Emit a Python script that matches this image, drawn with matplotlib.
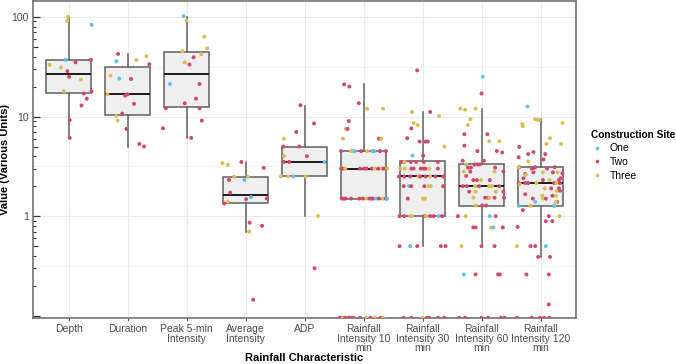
import numpy as np
import matplotlib.pyplot as plt
from matplotlib.lines import Line2D
from matplotlib.ticker import FixedLocator, NullFormatter

plt.rcParams['font.family'] = ['Liberation Sans', 'DejaVu Sans']

categories = ['Depth', 'Duration', 'Peak 5-min\nIntensity', 'Average\nIntensity', 'ADP',
              'Rainfall\nIntensity 10\nmin', 'Rainfall\nIntensity 30\nmin',
              'Rainfall\nIntensity 60\nmin', 'Rainfall\nIntensity 120\nmin']
site_names = ['One', 'Two', 'Three']
site_colors = ['#5BC3EE', '#D2476B', '#DCBD4F']

# box summaries (zeros are left out of the box stats)
box_lo = [6.1, 5.0, 6.1, 0.7, 1.0, 1.5, 0.5, 0.5, 0.39]
box_q1 = [17.3, 10.3, 12.4, 1.35, 2.5, 1.5, 1.0, 1.27, 1.27]
box_med = [26.9, 16.7, 26.5, 1.64, 3.46, 3.0, 2.5, 2.0, 2.15]
box_q3 = [36.7, 31.2, 44.5, 2.45, 4.97, 4.5, 3.55, 3.31, 3.09]
box_hi = [100, 42.5, 100, 3.46, 12.8, 21, 11.1, 12, 9.4]

# points: (value, site 1/2/3, jitter in category units); value 0 sits on the panel floor
depth_pts = [(100, 3, -0.01), (91, 3, -0.02), (83, 1, 0.39), (37, 1, -0.05), (35, 2, 0.12),
             (37, 2, 0.38), (33, 3, -0.32), (31, 3, -0.13), (28.5, 2, -0.02), (25, 2, 0.01),
             (23.5, 3, 0.21), (17.9, 3, -0.08), (17.9, 2, 0.39), (17, 2, 0.26), (15.1, 2, 0.31),
             (12.9, 2, 0.22), (9.2, 2, 0.02), (6.1, 2, 0.02)]
duration_pts = [(42.5, 2, -0.16), (37, 3, 0.15), (40.3, 3, 0.32), (33.5, 2, 0.37), (35.9, 1, -0.19),
                (25.7, 3, -0.29), (24, 1, -0.14), (23.8, 2, 0.06), (16.7, 3, -0.34), (16.2, 2, -0.04),
                (16.7, 2, 0.0), (13.4, 2, 0.11), (10.7, 2, -0.09), (10.1, 3, -0.19), (9.1, 3, -0.17),
                (7.5, 2, -0.02), (5.3, 2, 0.2), (5.0, 2, 0.28)]
peak_pts = [(102, 1, -0.05), (91.6, 3, 0.0), (63.4, 3, 0.3), (48.4, 3, 0.35), (45.2, 3, -0.07),
            (42.2, 3, 0.25), (39.3, 2, 0.12), (34.8, 3, -0.03), (33.2, 2, 0.05), (21.2, 1, -0.28),
            (21.2, 2, 0.22), (15.1, 2, 0.16), (13.6, 2, -0.03), (12.1, 2, -0.35), (12.1, 2, 0.22),
            (9.1, 2, 0.26), (7.6, 2, -0.4), (6.1, 2, 0.08)]
avg_pts = [(3.4, 3, -0.39), (3.27, 3, -0.3), (3.5, 2, -0.07), (3.05, 2, 0.31), (2.48, 3, -0.19),
           (2.48, 3, 0.04), (2.31, 2, -0.28), (2.31, 1, -0.02), (1.72, 2, -0.26), (1.34, 2, -0.36),
           (1.4, 3, -0.3), (1.48, 2, 0.01), (1.55, 1, 0.09), (1.5, 2, 0.36), (0.86, 2, 0.07),
           (0.8, 2, 0.28), (0.7, 3, 0.06), (0.145, 2, 0.13)]
adp_pts = [(13, 2, -0.07), (8.5, 2, 0.16), (7.0, 2, -0.14), (6.0, 3, -0.35), (5.0, 2, -0.36),
           (5.0, 2, -0.09), (4.0, 2, 0.04), (4.0, 3, -0.35), (3.5, 2, -0.35), (3.5, 2, -0.26),
           (3.5, 1, 0.34), (2.5, 3, -0.4), (2.5, 3, -0.28), (2.5, 1, -0.19), (2.5, 3, 0.02),
           (1.0, 3, 0.23), (0.3, 2, 0.17)]
r10_pts = [(21, 2, -0.33), (20, 2, -0.24), (13.6, 2, -0.08), (12, 3, 0.06), (12, 3, 0.33),
           (9, 2, -0.25), (7.5, 3, -0.3), (7.5, 2, -0.27), (6, 3, -0.35), (6, 2, 0.26), (6, 3, 0.3),
           (4.5, 2, -0.38), (4.5, 3, -0.21), (4.5, 3, -0.19), (4.5, 1, -0.15), (4.5, 2, -0.04),
           (4.5, 3, 0.06), (4.5, 1, 0.15), (4.5, 1, 0.18), (4.5, 2, 0.28), (4.5, 2, 0.38),
           (3.0, 2, -0.38), (3.0, 2, -0.35), (3.0, 3, -0.31), (3.0, 2, -0.06), (3.0, 2, 0.01),
           (3.0, 2, 0.05), (3.0, 2, 0.14), (3.0, 3, 0.19), (3.0, 2, 0.25), (3.0, 3, 0.31),
           (3.0, 2, 0.34), (3.0, 3, 0.4),
           (1.5, 2, -0.37), (1.5, 2, -0.34), (1.5, 2, -0.31), (1.5, 2, -0.21), (1.5, 2, -0.07),
           (1.5, 2, -0.01), (1.5, 3, 0.05), (1.5, 2, 0.1), (1.5, 2, 0.13), (1.5, 2, 0.16),
           (1.5, 1, 0.21), (1.5, 2, 0.26), (1.5, 3, 0.33), (1.5, 2, 0.38), (1.5, 1, 0.4),
           (0, 2, -0.4), (0, 2, -0.38), (0, 3, -0.35), (0, 2, -0.31), (0, 2, -0.25), (0, 2, -0.21),
           (0, 2, -0.17), (0, 2, -0.06), (0, 3, 0.05), (0, 2, 0.12), (0, 3, 0.19), (0, 2, 0.29),
           (0, 3, 0.33)]
r30_pts = [(29, 2, -0.09), (11.1, 3, -0.18), (11.1, 2, 0.13), (10.1, 3, 0.28), (8.6, 3, -0.15),
           (8.2, 3, -0.08), (7.6, 2, -0.19), (6.05, 2, -0.26), (5.6, 2, -0.05), (5.6, 2, 0.05),
           (5.6, 2, 0.09), (5.0, 3, 0.37), (4.05, 1, -0.17), (4.05, 2, 0.01),
           (3.5, 2, -0.35), (3.5, 3, -0.31), (3.5, 2, -0.2), (3.5, 2, -0.11), (3.5, 2, 0.02),
           (3.5, 2, 0.26),
           (3.0, 3, -0.38), (3.0, 3, -0.3), (3.0, 2, -0.19), (3.0, 2, -0.15), (3.0, 2, -0.03),
           (3.0, 2, 0.02), (3.0, 2, 0.05), (3.0, 3, 0.11), (3.0, 2, 0.26),
           (2.5, 2, -0.4), (2.5, 2, -0.31), (2.5, 2, -0.21), (2.5, 3, -0.07), (2.5, 2, -0.04),
           (2.5, 2, 0.05), (2.5, 3, 0.13), (2.5, 2, 0.22), (2.5, 2, 0.35),
           (2.0, 2, -0.32), (2.0, 1, -0.23), (2.0, 2, -0.19), (2.0, 2, 0.03), (2.0, 3, 0.1),
           (2.0, 3, 0.14), (2.0, 2, 0.35),
           (1.5, 2, -0.25), (1.5, 3, 0.01), (1.5, 3, 0.04),
           (1.0, 2, -0.39), (1.0, 2, -0.31), (1.0, 3, -0.21), (1.0, 3, -0.18), (1.0, 2, 0.03),
           (1.0, 3, 0.06), (1.0, 2, 0.13), (1.0, 2, 0.19), (1.0, 1, 0.27), (1.0, 2, 0.33),
           (0.5, 2, -0.39), (0.5, 1, -0.21), (0.5, 2, -0.09), (0.5, 2, 0.31), (0.5, 2, 0.39),
           (0, 2, -0.32), (0, 2, -0.19), (0, 3, 0.0), (0, 2, 0.08), (0, 2, 0.11), (0, 2, 0.26),
           (0, 2, 0.37)]
r60_pts = [(25, 1, 0.02), (17, 2, 0.0), (12, 3, -0.36), (11.7, 3, -0.28), (12, 3, -0.1),
           (9.4, 3, -0.19), (8.2, 3, -0.23), (6.65, 2, -0.29), (6.65, 2, 0.1), (5.65, 3, 0.13),
           (5.65, 3, 0.3), (5.1, 2, -0.29), (4.5, 2, -0.07), (4.5, 2, 0.26), (4.35, 2, 0.35),
           (3.6, 2, -0.32), (3.6, 2, 0.04), (3.3, 3, -0.26), (3.3, 2, -0.12), (3.3, 2, -0.07),
           (3.3, 2, -0.03), (3.07, 2, -0.23), (3.07, 2, -0.18), (3.07, 2, 0.23),
           (2.8, 3, -0.3), (2.8, 2, -0.19), (2.8, 3, 0.22), (2.8, 2, 0.37), (2.53, 2, -0.26),
           (2.3, 2, -0.14), (2.3, 2, -0.08), (2.3, 3, -0.01), (2.3, 2, 0.14),
           (2.0, 2, -0.32), (2.0, 2, -0.25), (2.0, 3, -0.11), (2.0, 2, -0.04), (2.0, 3, 0.13),
           (2.0, 3, 0.18), (2.0, 2, 0.3),
           (1.76, 2, -0.21), (1.76, 3, -0.1), (1.76, 3, 0.24), (1.76, 2, 0.37),
           (1.53, 3, -0.14), (1.53, 2, 0.06), (1.53, 2, 0.11), (1.53, 3, 0.13), (1.53, 2, 0.22),
           (1.53, 2, 0.38), (1.28, 3, -0.1), (1.28, 2, 0.01), (1.28, 2, 0.08),
           (1.0, 2, -0.4), (1.0, 3, -0.27), (1.0, 1, 0.14), (1.0, 2, 0.24),
           (0.77, 2, -0.14), (0.77, 2, -0.1), (0.77, 3, 0.16), (0.77, 1, 0.2), (0.77, 2, 0.36),
           (0.5, 3, -0.34), (0.5, 2, 0.0), (0.5, 2, 0.22),
           (0.26, 1, -0.3), (0.26, 2, -0.1), (0.26, 2, 0.28), (0.26, 2, 0.31),
           (0, 2, -0.38), (0, 2, -0.28), (0, 2, 0.0), (0, 2, 0.11), (0, 2, 0.33), (0, 2, 0.39)]
r120_pts = [(12.6, 1, -0.22), (9.4, 3, -0.09), (9.3, 3, -0.06), (9.2, 3, -0.02), (8.6, 3, 0.37),
            (8.4, 3, -0.31), (8.0, 3, -0.3), (6.05, 3, 0.16), (5.3, 3, 0.1), (5.3, 3, 0.35),
            (4.95, 2, -0.36), (4.2, 2, 0.08), (4.4, 2, -0.12), (4.2, 2, -0.21), (3.9, 2, -0.37),
            (3.7, 2, 0.05), (3.55, 3, -0.21), (3.1, 2, -0.36), (3.1, 3, -0.37), (3.0, 2, -0.15),
            (3.05, 2, -0.12), (3.1, 2, -0.09), (3.0, 2, 0.11), (3.1, 2, 0.24),
            (2.65, 2, -0.26), (2.6, 3, -0.25), (2.75, 2, -0.12), (2.75, 3, 0.04), (2.75, 2, 0.21),
            (2.75, 3, 0.29), (2.7, 2, 0.37), (2.4, 2, -0.29), (2.4, 2, 0.34), (2.3, 2, 0.31),
            (2.3, 2, 0.04), (2.3, 3, 0.15),
            (2.15, 2, -0.37), (2.1, 3, -0.35), (2.15, 2, -0.26), (2.15, 2, -0.21), (2.15, 3, -0.07),
            (2.15, 2, 0.23), (2.15, 3, 0.27), (2.15, 2, 0.33),
            (1.9, 3, 0.07), (1.9, 2, 0.18), (1.9, 2, 0.31), (1.8, 3, 0.28), (1.8, 2, 0.33),
            (1.66, 2, -0.26), (1.5, 2, -0.13), (1.6, 3, 0.03), (1.5, 3, 0.04), (1.5, 2, 0.09),
            (1.6, 2, 0.2), (1.6, 3, 0.26), (1.39, 2, 0.28), (1.39, 3, 0.26),
            (1.27, 1, -0.37), (1.39, 1, -0.09), (1.27, 3, -0.17), (1.27, 1, 0.23), (1.15, 2, -0.3),
            (1.0, 3, 0.32), (1.0, 2, 0.14), (0.89, 2, 0.09), (0.89, 2, 0.2), (0.78, 2, -0.39),
            (0.5, 3, -0.4), (0.5, 2, -0.17), (0.5, 2, -0.09), (0.5, 1, 0.09),
            (0.39, 2, -0.04), (0.39, 2, 0.16), (0.26, 2, -0.24), (0.26, 2, 0.14), (0.13, 2, 0.14),
            (0, 2, -0.4), (0, 2, -0.15), (0, 2, -0.01), (0, 2, 0.06), (0, 2, 0.15)]
all_pts = [depth_pts, duration_pts, peak_pts, avg_pts, adp_pts,
           r10_pts, r30_pts, r60_pts, r120_pts]

fig, ax = plt.subplots(figsize=(6.76, 3.64), dpi=100)
fig.subplots_adjust(left=0.049, right=0.852, bottom=0.127, top=0.997)

ymin, ymax = 0.0955, 144
ax.set_yscale('log')
ax.set_xlim(0.4, 9.6)
ax.set_ylim(ymin, ymax)

positions = np.arange(1, len(categories) + 1)
stats = [dict(whislo=lo, q1=a, med=m, q3=b, whishi=hi, fliers=[])
         for lo, a, m, b, hi in zip(box_lo, box_q1, box_med, box_q3, box_hi)]
ax.bxp(stats, positions=positions, widths=0.75, showfliers=False, showcaps=False,
       patch_artist=True,
       boxprops=dict(facecolor='#EFEFEF', edgecolor='#606060', linewidth=1.1),
       medianprops=dict(color='#1A1A1A', linewidth=1.4),
       whiskerprops=dict(color='#606060', linewidth=1.1), zorder=2)

for pos, pts in zip(positions, all_pts):
    arr = np.array(pts, dtype=float)
    vals, sites, jit = arr[:, 0], arr[:, 1].astype(int), arr[:, 2]
    y = np.where(vals > 0, vals, ymin)
    cols = [site_colors[s - 1] for s in sites]
    ax.scatter(pos + jit, y, s=8, c=cols, linewidths=0, zorder=3)

# grid
ax.set_xticks(positions)
ax.set_xticklabels(categories, fontsize=7.5, color='#4D4D4D', linespacing=0.95)
ax.set_yticks([1, 10, 100])
ax.set_yticklabels(['1', '10', '100'], fontsize=7.5, color='#4D4D4D')
ax.grid(True, which='major', color='#EBEBEB', linewidth=0.8, zorder=0)
for g in [10 ** -0.5, 10 ** 0.5, 10 ** 1.5]:
    ax.axhline(g, color='#F2F2F2', linewidth=0.6, zorder=0)
ax.set_axisbelow(True)

# log ticks inside the panel
minor = [m * 10.0 ** k for k in (-1, 0, 1) for m in (2, 3, 4, 6, 7, 8, 9)]
ax.yaxis.set_minor_locator(FixedLocator(minor))
ax.yaxis.set_minor_formatter(NullFormatter())
ax.tick_params(axis='y', which='major', direction='in', length=5, width=0.9,
               color='#333333', pad=3)
ax.tick_params(axis='y', which='minor', direction='in', length=2.2, width=0.8,
               color='#333333')
ax.tick_params(axis='x', which='major', direction='out', length=2.5, width=0.8,
               color='#555555', pad=2)

sec = ax.secondary_yaxis('left')
sec.set_yticks([0.1])
sec.set_yticklabels([''])
sec.yaxis.set_minor_locator(FixedLocator([0.5, 5, 50]))
sec.yaxis.set_minor_formatter(NullFormatter())
sec.tick_params(which='major', direction='in', length=5, width=0.9, color='#333333')
sec.tick_params(which='minor', direction='in', length=3.6, width=0.8, color='#333333')
sec.spines['left'].set_visible(False)

for sp in ax.spines.values():
    sp.set_color('#666666')
    sp.set_linewidth(1.1)

ax.set_xlabel('Rainfall Characteristic', fontsize=8, fontweight='bold', labelpad=0)
ax.set_ylabel('Value (Various Units)', fontsize=8, fontweight='bold')
ax.yaxis.set_label_coords(-0.042, 0.5)

handles = [Line2D([], [], marker='o', linestyle='', markersize=2.6,
                  markerfacecolor=c, markeredgewidth=0) for c in site_colors]
leg = fig.legend(handles, site_names, loc='upper left', bbox_to_anchor=(0.868, 0.655),
                 frameon=False, fontsize=7.5, title='Construction Site',
                 title_fontproperties={'weight': 'bold', 'size': 7.3},
                 handlelength=1.2, handletextpad=0.6, labelspacing=0.35,
                 alignment='left', borderaxespad=0)

fig.savefig('out.png', dpi=100)
